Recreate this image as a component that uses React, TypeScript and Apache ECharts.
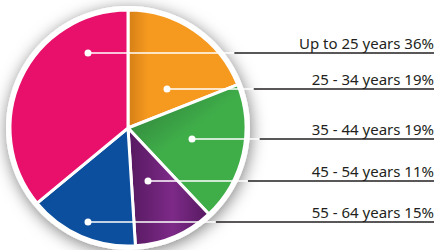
import React, { useEffect, useRef } from "react";
import * as echarts from "echarts";

// ---- data ----
const categories = ["25 - 34 years", "35 - 44 years", "45 - 54 years", "55 - 64 years", "Up to 25 years"];
const shares = [19, 19, 11, 15, 36];
const baseColors = ["#F5991F", "#3FAE49", "#7D2A88", "#0B4F9E", "#E8106B"];
const shadeColors = ["#D47E16", "#2C7436", "#55195F", "#0C3A72", "#E8106B"];

// ---- layout (pixels) ----
const CX = 128;
const CY = 128;
const R = 118;
const lineY = [89, 139, 181, 222, 53];
const dotX = [167, 192, 148, 88, 88];
const LINE_END = 434;

const edgeX = (y: number) => CX + Math.sqrt((R + 4) * (R + 4) - (y - CY) * (y - CY)) + 10;

const gradients = [
  [0, 0, 1, 0],
  [0, 0, 0.6, 0.9],
  [0, 0, 1, 0],
  [0, 0, 0.7, 0.7],
  [0, 0, 1, 0],
];

export default function App() {
  const ref = useRef<HTMLDivElement>(null);
  useEffect(() => {
    const chart = echarts.init(ref.current!, undefined, { renderer: "svg" });
    const data = categories.map((name, i) => {
      const g = gradients[i];
      return {
        name,
        value: shares[i],
        itemStyle: {
          color:
            i === 4
              ? baseColors[i]
              : new echarts.graphic.LinearGradient(g[0], g[1], g[2], g[3], [
                  { offset: 0, color: shadeColors[i] },
                  { offset: i === 0 ? 0.18 : 0.55, color: baseColors[i] },
                  { offset: 1, color: i === 2 ? shadeColors[i] : baseColors[i] },
                ]),
        },
      };
    });
    chart.setOption({
      animation: false,
      series: [
        {
          type: "pie",
          silent: true,
          z: 1,
          center: [CX, CY],
          radius: [0, R + 4],
          label: { show: false },
          labelLine: { show: false },
          itemStyle: {
            color: "#ffffff",
            shadowBlur: 16,
            shadowColor: "rgba(0,0,0,0.5)",
            shadowOffsetX: 1,
            shadowOffsetY: 3,
          },
          data: [{ value: 1, name: "bg" }],
        },
        {
          type: "pie",
          z: 2,
          center: [CX, CY],
          radius: [0, R],
          startAngle: 90,
          clockwise: true,
          avoidLabelOverlap: false,
          itemStyle: { borderColor: "#ffffff", borderWidth: 3 },
          label: {
            show: true,
            position: "outside",
            formatter: "{b} {c}%",
            fontFamily: "Noto Sans",
            fontSize: 15,
            lineHeight: 17,
            color: "#231F20",
          },
          labelLine: {
            show: true,
            length: 5,
            length2: 5,
            lineStyle: { color: "#231F20", width: 1.3 },
          },
          labelLayout: (p: any) => {
            const i = p.dataIndex;
            const y = lineY[i];
            const x0 = edgeX(y);
            return {
              x: LINE_END,
              y: y - 2,
              align: "right",
              verticalAlign: "bottom",
              labelLinePoints: [
                [x0, y],
                [x0 + 1, y],
                [LINE_END, y],
              ],
            };
          },
          data,
        },
        {
          type: "pie",
          silent: true,
          z: 5,
          center: [CX, CY],
          radius: [0, R],
          startAngle: 90,
          clockwise: true,
          avoidLabelOverlap: false,
          itemStyle: { color: "rgba(0,0,0,0)" },
          label: {
            show: true,
            position: "outside",
            formatter: " ",
            fontSize: 1,
            width: 7,
            height: 7,
            padding: 0,
            borderRadius: 4,
            backgroundColor: "#ffffff",
          },
          labelLine: {
            show: true,
            length: 5,
            length2: 5,
            lineStyle: { color: "#ffffff", width: 1.6 },
          },
          labelLayout: (p: any) => {
            const i = p.dataIndex;
            const y = lineY[i];
            const x0 = dotX[i];
            const x1 = edgeX(y);
            return {
              x: x0,
              y: y,
              align: "center",
              verticalAlign: "middle",
              labelLinePoints: [
                [x0, y],
                [x0 + 1, y],
                [x1, y],
              ],
            };
          },
          data: categories.map((name, i) => ({ name, value: shares[i] })),
        },
      ],
    });
    return () => chart.dispose();
  }, []);
  return (
    <div
      ref={ref}
      style={{ position: "absolute", left: 0, top: 0, width: 438, height: 250, background: "#ffffff" }}
    />
  );
}
